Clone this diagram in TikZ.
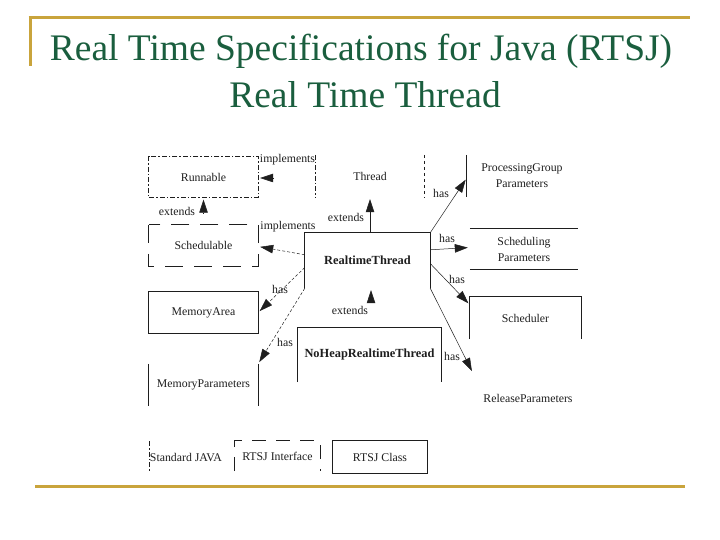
\documentclass[tikz,border=0pt]{standalone}
\usepackage{fontspec}
\setmainfont{Liberation Serif}
\usetikzlibrary{arrows.meta, positioning, calc}
\definecolor{ttgreen}{HTML}{1A5E3E}
\definecolor{rulegold}{HTML}{C9A43C}
\definecolor{ink}{HTML}{1E1E1E}
\newcommand{\dgfont}{\fontsize{11.8}{16}\selectfont}
\newcommand{\dgbold}{\fontsize{12.4}{16}\selectfont\bfseries}

\begin{document}
\begin{tikzpicture}[x=1pt, y=-1pt,
  box/.style={minimum width=109pt, minimum height=41pt, inner sep=0pt,
              font=\dgfont, text=ink, align=center},
  lbl/.style={font=\dgfont, text=ink, inner sep=0pt},
  title/.style={font=\fontsize{37.5}{47}\selectfont, text=ttgreen, inner sep=0pt},
  edge/.style={ink, line width=0.8pt},
  arr/.style={ink, line width=0.5pt, shorten >=2pt, -{Triangle[length=13pt, width=8.5pt]}},
  dashdot/.style={dash pattern=on 5pt off 2pt on 1.5pt off 2pt},
  longdash/.style={dash pattern=on 18pt off 11pt},
  finedash/.style={dash pattern=on 3pt off 2pt}]

\useasboundingbox (0,0) rectangle (720,540);

% Frame rules
\draw[rulegold, line width=3pt] (28.5,18) -- (690,18);
\draw[rulegold, line width=3pt] (30,18) -- (30,66);
\draw[rulegold, line width=3pt] (35,486) -- (685,486);

% Title
\node[title, anchor=base] (title1) at (361,61) {Real Time Specifications for Java (RTSJ)};
\node[title, anchor=base] (title2) at (365,108) {Real Time Thread};

% ========== Classes ==========
\node[box] (runnable) at (203.5,177) {Runnable};
\node[box, minimum width=108pt, minimum height=42pt] (thread) at (370,176) {Thread};
\node[box, minimum width=110pt, minimum height=42pt] (pgp) at (522,176) {ProcessingGroup\\Parameters};
\node[box] (schedulable) at (203.5,245.5) {Schedulable};
\node[box, minimum width=125pt, minimum height=55pt, font=\dgbold] (rtt) at (367.5,260.5) {RealtimeThread};
\node[box, minimum width=108pt] (sp) at (524,249) {Scheduling\\Parameters};
\node[box] (memarea) at (203.5,312.5) {MemoryArea};
\node[box, minimum width=111pt, minimum height=42pt] (sched) at (525.5,318) {Scheduler};
\node[box, minimum width=143pt, minimum height=54pt, font=\dgbold] (nhrt) at (369.5,355) {NoHeapRealtimeThread};
\node[box, minimum width=110pt, minimum height=50pt] (relp) at (528,398) {ReleaseParameters};
\node[box, minimum height=42pt] (mempar) at (203.5,385) {MemoryParameters};

% Visible box edges
\draw[edge, dashdot] (runnable.north west) rectangle (runnable.south east);
\draw[edge, dashdot] (thread.north west) -- (thread.south west);
\draw[edge, dashed] (thread.north east) -- (thread.south east);
\draw[edge] (pgp.north west) -- (pgp.south west);
\draw[edge, longdash] (schedulable.north west) rectangle (schedulable.south east);
\draw[edge] (rtt.south west) |- (rtt.north east) -- (rtt.south east);
\draw[edge] (sp.north west) -- (sp.north east) (sp.south west) -- (sp.south east);
\draw[edge] (memarea.north west) rectangle (memarea.south east);
\draw[edge] (sched.south west) |- (sched.north east) -- (sched.south east);
\draw[edge] (nhrt.south west) |- (nhrt.north east) -- (nhrt.south east);
\draw[edge] (mempar.north west) -- (mempar.south west) (mempar.north east) -- (mempar.south east);

% ========== Relations ==========
\coordinate (impRun) at (274,178);
\draw[arr] (impRun) -- (runnable.east |- impRun);
\coordinate (extRun) at (203.5,213);
\draw[arr] (extRun) -- (runnable.south);
\draw[arr, finedash] ([yshift=-22pt]rtt.north west) -- ([yshift=-1pt]schedulable.east);
\draw[arr] (rtt.north -| thread.south) -- (thread.south);
\draw[arr] (rtt.north east) -- ([yshift=-2pt]pgp.west);
\draw[arr] ([yshift=-17pt]rtt.north east) -- ([yshift=1.5pt]sp.west);
\draw[arr] ([yshift=-3pt]rtt.east) -- ([yshift=-8pt]sched.north west);
\draw[arr] (rtt.south east) -- (relp.north west);
\draw[arr, finedash] ([yshift=-7pt]rtt.west) -- (memarea.east);
\draw[arr, finedash] (rtt.south west) -- (mempar.north east);
\coordinate (extNh) at (371,302);
\draw[arr] (extNh) -- (extNh |- rtt.south);

% Relation labels
\node[lbl] (lImpRun) at (287.5,160) {implements};
\node[lbl] (lExtRun) at (177,211) {extends};
\node[lbl] (lImpSch) at (288,227) {implements};
\node[lbl] (lExtThr) at (346,217) {extends};
\node[lbl] (lHasPgp) at (441,193) {has};
\node[lbl] (lHasSp) at (447,238) {has};
\node[lbl] (lHasSched) at (457,279) {has};
\node[lbl] (lHasRelp) at (452,356) {has};
\node[lbl] (lHasMem) at (280,289) {has};
\node[lbl] (lHasMemPar) at (285,342) {has};
\node[lbl] (lExtNh) at (350,310) {extends};

% ========== Legend ==========
\node[box, minimum width=72pt, minimum height=31pt] (std) at (186,457) {Standard JAVA};
\node[box, minimum width=85pt, minimum height=30pt] (rtsjint) at (277.5,456) {RTSJ Interface};
\node[box, minimum width=94pt, minimum height=32pt] (rtsjcls) at (380,457) {RTSJ Class};
\draw[edge, dashdot] (std.north west) -- (std.south west);
\draw[edge, dash pattern=on 14pt off 10pt] (rtsjint.south west) |- (rtsjint.north east) -- (rtsjint.south east);
\draw[edge] (rtsjcls.north west) rectangle (rtsjcls.south east);

\end{tikzpicture}
\end{document}
